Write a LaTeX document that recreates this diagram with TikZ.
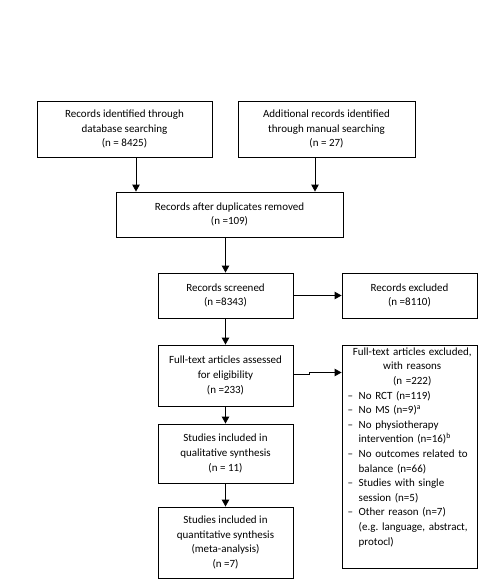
\documentclass[tikz,border=0pt]{standalone}
\usepackage{fontspec}
\setmainfont{Carlito}
\usetikzlibrary{arrows.meta,calc}
\frenchspacing
\newcommand{\boxfont}{\fontsize{11}{14.6}\selectfont}
\newcommand{\reasonitem}{\par\hangindent=11pt\hangafter=1\noindent\makebox[11pt][l]{–}}
\tikzset{
  flowbox/.style={draw, line width=0.9pt, align=center, inner sep=0pt, font=\boxfont},
  smallbox/.style={flowbox, minimum width=135pt},
  arr/.style={line width=0.9pt, -{Triangle[length=7pt,width=7.5pt]}}
}
\begin{document}
\begin{tikzpicture}[x=1pt,y=-1pt]
\useasboundingbox (0,0) rectangle (478,580);
\fill[white] (0,0) rectangle (478,580);

\node[flowbox, minimum width=175pt, minimum height=56pt] (b1) at (124.5,129)
  {Records identified through\\database searching\\(n = 8425)};
\node[flowbox, minimum width=177pt, minimum height=56pt] (b2) at (326.5,129)
  {Additional records identified\\through manual searching\\(n = 27)};
\node[flowbox, minimum width=227pt, minimum height=45pt] (b3) at (229.5,214.5)
  {Records after duplicates removed\\(n =109)};
\node[smallbox, minimum height=45pt] (b4) at (225.5,295.5)
  {Records screened\\(n =8343)};
\node[smallbox, minimum height=45pt] (b5) at (409.5,295.5)
  {Records excluded\\(n =8110)};
\node[smallbox, minimum height=61pt] (b6) at (225.5,375.5)
  {Full-text articles assessed\\for eligibility\\(n =233)};
\node[smallbox, minimum height=223pt] (b7) at (409.5,456.5) {};
\node[anchor=north west, inner sep=0pt, text width=129pt, font=\boxfont] (b7t) at (347.5,347.5)
  {\centering Full-text articles excluded,\\with reasons\\(n =222)\par
   \raggedright
   \reasonitem No RCT (n=119)
   \reasonitem No MS (n=9)\textsuperscript{a}
   \reasonitem No physiotherapy\break intervention (n=16)\textsuperscript{b}
   \reasonitem No outcomes related to\break balance (n=66)
   \reasonitem Studies with single\break session (n=5)
   \reasonitem Other reason (n=7)\break (e.g. language, abstract,\break protocl)\par};
\node[smallbox, minimum height=59pt] (b8) at (225.5,453.5)
  {Studies included in\\qualitative synthesis\\(n = 11)};
\node[smallbox, minimum height=71pt] (b9) at (225.5,542.5)
  {Studies included in\\quantitative synthesis\\(meta-analysis)\\(n =7)};

\draw[arr] ([xshift=11.5pt]b1.south) -- ([xshift=11.5pt]b1.south |- b3.north);
\draw[arr] ([xshift=-11.5pt]b2.south) -- ([xshift=-11.5pt]b2.south |- b3.north);
\draw[arr] (b3.south -| b4.north) -- (b4.north);
\draw[arr] (b4.east) -- (b5.west);
\draw[arr] (b4.south) -- (b6.north);
\draw[arr] ([yshift=1pt]b6.east) -- ++(16pt,0pt) -- ++(0pt,2pt) coordinate (j) -- (j -| b7.west);
\draw[arr] (b6.south) -- (b8.north);
\draw[arr] (b8.south) -- (b9.north);
\end{tikzpicture}
\end{document}
